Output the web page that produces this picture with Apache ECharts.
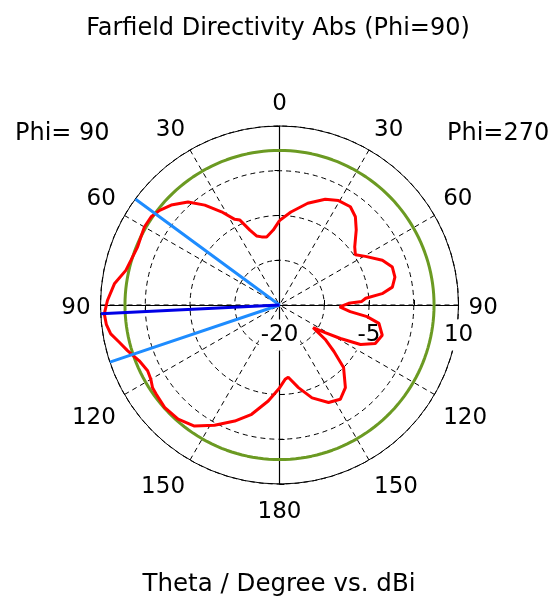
<!DOCTYPE html>
<html>
<head>
<meta charset="utf-8">
<script src="https://cdn.jsdelivr.net/npm/echarts@6/dist/echarts.min.js"></script>
<style>
  html, body { margin: 0; padding: 0; background: #fff; }
  #chart { width: 550px; height: 603px; }
</style>
</head>
<body>
<div id="chart"></div>
<script>
const FONT = 'DejaVu Sans';

// Sweep angle: 0..180 = theta on the Phi=90 half (counter-clockwise from top),
// 180..360 = the Phi=270 half (theta = 360 - angle, clockwise from top).
const patternAngle = [
  0, 4.8, 10.7, 14.7, 18.4, 21.6, 25.0, 27.6, 31.9, 36.8, 41.6, 47.3, 51.7, 55.5, 59.9,
  63.5, 67.7, 73.2, 77.3, 82.7, 88.5, 92.9, 96.5, 99.7, 103.0, 106.7, 111.7, 116.5, 120.0,
  123.1, 125.9, 131.7, 138.4, 144.9, 151.6, 158.9, 165.7, 173.3, 180.0, 184.3, 186.9,
  192.9, 199.3, 206.7, 212.8, 218.6, 225.7, 229.5, 233.0, 236.0, 238.6, 241.2, 244.0,
  248.1, 253.6, 259.5, 262.4, 264.6, 268.2, 271.4, 272.5, 274.5, 276.3, 279.0, 283.6,
  288.6, 293.5, 299.5, 303.5, 307.7, 314.4, 319.3, 324.2, 330.5, 336.6, 344.5, 353.0, 360
];
const patternDbi = [
  -5.85, -7.4, -8.4, -8.2, -7.8, -6.5, -4.3, -3.8, -1.6, 0.9, 3.1, 4.7, 5.6, 6.1, 6.15,
  5.9, 5.7, 6.0, 6.4, 7.9, 8.85, 9.4, 9.2, 8.7, 7.6, 6.6, 5.3, 4.7, 4.9,
  5.4, 5.5, 5.8, 5.6, 4.8, 2.9, 0.85, -1.1, -3.8, -6.1, -7.5, -7.8,
  -5.8, -3.5, -1.7, -1.2, -2.3, -5.0, -8.0, -10.4, -13.2, -11.3, -8.35, -4.9,
  -2.7, -2.05, -3.05, -5.2, -8.1, -9.9, -8.4, -6.2, -5.5, -2.7, -0.85, -0.1,
  -0.05, -1.2, -3.45, -4.75, -4.07, -2.0, -0.5, 0.3, 0.1, -0.7, -2.3, -4.3, -5.85
];

const mainLobeAngle = 92.8;            // main lobe direction
const halfPowerAngles = [53.7, 108.6]; // 3 dB angular width limits
const halfPowerLevel = 5.9;            // -3 dB level circle (dBi)

const radiusMin = -20;
const radiusMax = 10;
const radiusStep = 7.5;
const radiusLabels = [-20, -5, 10];
const angleStep = 30;

const CENTER = ['50.82%', '50.58%'];
const RADIUS = 179;

const patternData = patternAngle.map((a, i) => [patternDbi[i], a]);

const levelData = [];
for (let a = 0; a <= 360; a += 2) levelData.push([halfPowerLevel, a]);

const chart = echarts.init(document.getElementById('chart'), null, { renderer: 'canvas' });

const textBase = { fontFamily: FONT, color: '#000', fontWeight: 'normal' };
const tickFont = { ...textBase, fontSize: 23 };

// one polar for the data grid plus three more that only carry the other axis arms
const armAngles = [90, 180, 270, 0];
const polar = armAngles.map(() => ({ center: CENTER, radius: RADIUS }));

// angle tick label: theta value, with the lower labels pushed a little further out
function angleLabel(v) {
  const theta = v <= 180 ? v : 360 - v;
  if (theta === 90) return '{mid|' + theta + '}';
  if (theta > 90) return '{low|' + theta + '}';
  return '{top|' + theta + '}';
}

const angleAxis = armAngles.map((sa, i) => {
  if (i === 0) {
    return {
      polarIndex: 0, type: 'value', min: 0, max: 360, interval: angleStep,
      startAngle: 90, clockwise: false,
      axisLine: { show: true, lineStyle: { color: '#000', width: 1 } },
      axisTick: { show: false },
      axisLabel: {
        show: true, margin: 10, ...tickFont,
        formatter: angleLabel,
        rich: {
          top: { ...tickFont, padding: [0, 0, 0, 0] },
          mid: { ...tickFont, padding: [7, 0, 0, 0] },
          low: { ...tickFont, padding: [7, 0, 0, 0] }
        }
      },
      splitLine: { show: true, lineStyle: { color: '#000', width: 1, type: [5, 4] } }
    };
  }
  return {
    polarIndex: i, type: 'value', min: 0, max: 360, startAngle: sa,
    show: false
  };
});

const radiusAxis = armAngles.map((sa, i) => ({
  polarIndex: i, type: 'value', min: radiusMin, max: radiusMax, interval: radiusStep,
  z: 3,
  axisLine: { show: true, lineStyle: { color: '#000', width: 1.2 } },
  axisTick: { show: true, length: 5, lineStyle: { color: '#000', width: 1 } },
  axisLabel: i === 3 ? {
    show: true, margin: -30, verticalAlign: 'middle', align: 'center',
    ...tickFont,
    backgroundColor: '#fff', padding: [4, 2],
    formatter: v => radiusLabels.includes(v) ? String(v) : ''
  } : { show: false },
  splitLine: i === 0
    ? { show: true, lineStyle: { color: '#000', width: 1, type: [5, 4] } }
    : { show: false },
  splitArea: { show: false }
}));

const option = {
  animation: false,
  backgroundColor: '#fff',
  title: [
    { text: 'Farfield Directivity Abs (Phi=90)', left: 278, textAlign: 'center', top: 15, padding: 0,
      textStyle: { ...textBase, fontSize: 24, lineHeight: 28 } },
    { text: 'Theta / Degree vs. dBi', left: 279, textAlign: 'center', top: 571, padding: 0,
      textStyle: { ...textBase, fontSize: 24.5, lineHeight: 28 } },
    { text: 'Phi= 90', left: 15, top: 120, padding: 0,
      textStyle: { ...textBase, fontSize: 24, lineHeight: 28 } },
    { text: 'Phi=270', left: 447, top: 120, padding: 0,
      textStyle: { ...textBase, fontSize: 24, lineHeight: 28 } }
  ],
  polar,
  angleAxis,
  radiusAxis,
  series: [
    {
      name: '3 dB level', type: 'line', coordinateSystem: 'polar', polarIndex: 0,
      data: levelData, showSymbol: false, symbol: 'none', smooth: false,
      lineStyle: { color: '#6b9a22', width: 3 }, z: 4, silent: true
    },
    {
      name: 'Directivity', type: 'line', coordinateSystem: 'polar', polarIndex: 0,
      data: patternData, showSymbol: false, symbol: 'none', smooth: false,
      lineStyle: { color: '#ff0000', width: 3 }, z: 5, silent: true
    },
    {
      name: 'Angular width', type: 'line', coordinateSystem: 'polar', polarIndex: 0,
      data: [[radiusMax, halfPowerAngles[0]], [radiusMin, halfPowerAngles[0]],
             [radiusMax, halfPowerAngles[1]]],
      showSymbol: false, symbol: 'none',
      lineStyle: { color: '#1e8cff', width: 3 }, z: 6, silent: true
    },
    {
      name: 'Main lobe', type: 'line', coordinateSystem: 'polar', polarIndex: 0,
      data: [[radiusMin, mainLobeAngle], [radiusMax, mainLobeAngle]],
      showSymbol: false, symbol: 'none',
      lineStyle: { color: '#0000e6', width: 3 }, z: 7, silent: true
    }
  ]
};

chart.setOption(option);
</script>
</body>
</html>
